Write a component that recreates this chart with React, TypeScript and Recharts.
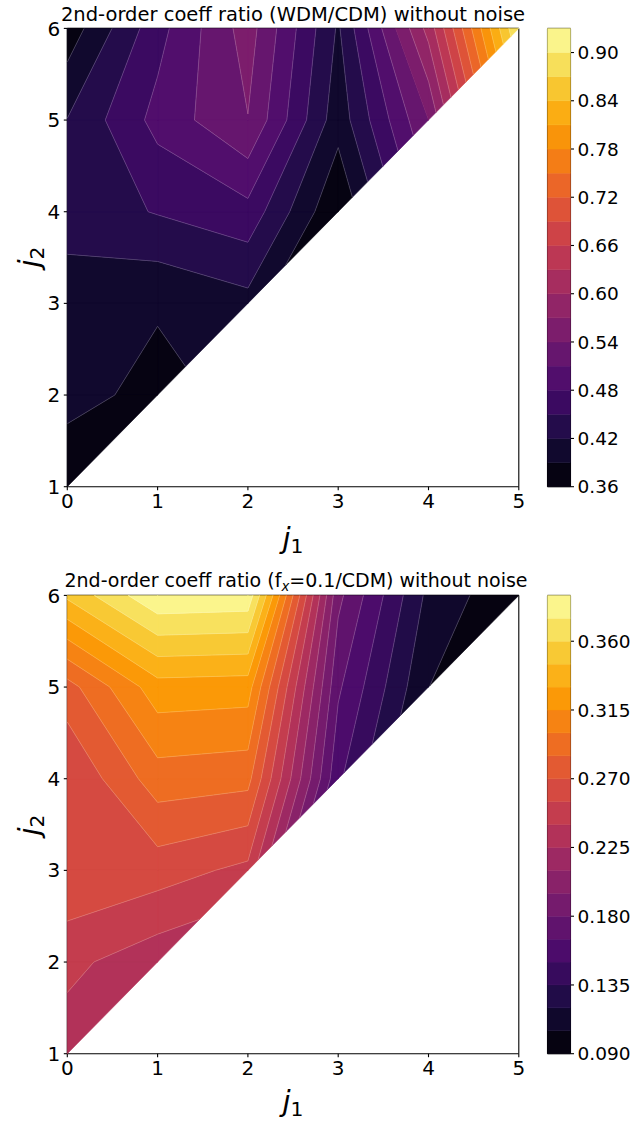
import React from "react";
import { ScatterChart, Scatter, XAxis, YAxis, ReferenceLine } from "recharts";

// grid of scale indices
const J1 = [0, 1, 2, 3, 4, 5];
const J2 = [1, 2, 3, 4, 5, 6];

// one row per j2 (1..6), one value per j1 (0..j2-1)
const WDM_ROWS = [
  [0.368],
  [0.4, 0.381],
  [0.405, 0.393, 0.41],
  [0.433, 0.452, 0.47, 0.362],
  [0.421, 0.49, 0.539, 0.402, 0.54],
  [0.372, 0.469, 0.554, 0.416, 0.611, 0.902],
];
const FX_ROWS = [
  [0.232],
  [0.244, 0.2304],
  [0.2686, 0.262, 0.251],
  [0.2554, 0.293, 0.29, 0.153],
  [0.279, 0.3236, 0.322, 0.1675, 0.1052],
  [0.348, 0.388, 0.386, 0.184, 0.116, 0.092],
];

const WDM_LEVELS = [0.36, 0.39, 0.42, 0.45, 0.48, 0.51, 0.54, 0.57, 0.6, 0.63, 0.66, 0.69, 0.72, 0.75, 0.78, 0.81, 0.84, 0.87, 0.9, 0.93];
const FX_LEVELS = [0.09, 0.105, 0.12, 0.135, 0.15, 0.165, 0.18, 0.195, 0.21, 0.225, 0.24, 0.255, 0.27, 0.285, 0.3, 0.315, 0.33, 0.345, 0.36, 0.375, 0.39];
const WDM_TICKS = [0.36, 0.42, 0.48, 0.54, 0.6, 0.66, 0.72, 0.78, 0.84, 0.9];
const FX_TICKS = [0.09, 0.135, 0.18, 0.225, 0.27, 0.315, 0.36];

// inferno colormap samples: [position, colour]
const INFERNO: [number, string][] = [
  [0, "#000004"], [0.1, "#160b39"], [0.111, "#1b0c42"], [0.2, "#420a68"], [0.222, "#4b0c6b"],
  [0.3, "#6a176e"], [0.333, "#781c6d"], [0.4, "#932667"], [0.444, "#a52c60"], [0.5, "#bc3754"],
  [0.556, "#cf4446"], [0.6, "#dd513a"], [0.667, "#ed6925"], [0.7, "#f37819"], [0.778, "#fb9a06"],
  [0.8, "#fca50a"], [0.889, "#f7d03c"], [0.9, "#f6d746"], [1, "#fcffa4"],
];
const FONT = "DejaVu Sans, sans-serif";

function inferno(t: number) {
  const s = Math.max(0, Math.min(1, t));
  let i = 0;
  while (i < INFERNO.length - 2 && INFERNO[i + 1][0] < s) i++;
  const [p0, a] = INFERNO[i];
  const [p1, b] = INFERNO[i + 1];
  const f = (s - p0) / (p1 - p0);
  const ch = (h: string, k: number) => parseInt(h.slice(1 + 2 * k, 3 + 2 * k), 16);
  const c = [0, 1, 2].map((k) => Math.round(ch(a, k) + f * (ch(b, k) - ch(a, k))));
  return `rgb(${c[0]},${c[1]},${c[2]})`;
}

type Pt = { x: number; y: number; v: number };

function buildCells(rows: number[][]) {
  const cells: Pt[][] = [];
  const val = (c: number, r: number) => (rows[r] && rows[r][c] != null ? rows[r][c] : null);
  for (let r = 0; r < J2.length - 1; r++) {
    for (let c = 0; c < J1.length - 1; c++) {
      const corners = [[c, r], [c + 1, r], [c + 1, r + 1], [c, r + 1]];
      const pts = corners
        .filter(([cc, rr]) => val(cc, rr) != null)
        .map(([cc, rr]) => ({ x: J1[cc], y: J2[rr], v: val(cc, rr) as number }));
      if (pts.length >= 3) cells.push(pts);
    }
  }
  return cells;
}

function bandPolygon(cell: Pt[], lo: number, hi: number) {
  const out: { x: number; y: number }[] = [];
  const n = cell.length;
  for (let i = 0; i < n; i++) {
    const a = cell[i], b = cell[(i + 1) % n];
    if (a.v >= lo && a.v <= hi) out.push({ x: a.x, y: a.y });
    const cuts: { t: number; x: number; y: number }[] = [];
    [lo, hi].forEach((L) => {
      if ((a.v - L) * (b.v - L) < 0) {
        const t = (L - a.v) / (b.v - a.v);
        cuts.push({ t, x: a.x + t * (b.x - a.x), y: a.y + t * (b.y - a.y) });
      }
    });
    cuts.sort((p, q) => p.t - q.t).forEach((p) => out.push({ x: p.x, y: p.y }));
  }
  return out.length >= 3 ? out : null;
}

function levelSegments(cell: Pt[], L: number) {
  const cuts: { x: number; y: number }[] = [];
  const n = cell.length;
  for (let i = 0; i < n; i++) {
    const a = cell[i], b = cell[(i + 1) % n];
    if ((a.v - L) * (b.v - L) < 0) {
      const t = (L - a.v) / (b.v - a.v);
      cuts.push({ x: a.x + t * (b.x - a.x), y: a.y + t * (b.y - a.y) });
    }
  }
  const segs: { x: number; y: number }[][] = [];
  for (let i = 0; i + 1 < cuts.length; i += 2) segs.push([cuts[i], cuts[i + 1]]);
  return segs;
}

const noDot = () => <g />;

// Scatter line renderer: draws the scaled points as several sub-paths
function pathRenderer(sizes: number[], fill: string, stroke: string, strokeWidth: number, closed: boolean) {
  return (props: any) => {
    const pts = props.points || [];
    let d = "";
    let i = 0;
    sizes.forEach((n) => {
      for (let k = 0; k < n; k++) {
        const p = pts[i + k];
        if (p) d += (k ? "L" : "M") + p.x.toFixed(2) + "," + p.y.toFixed(2);
      }
      if (closed) d += "Z";
      i += n;
    });
    return <path d={d} fill={fill} stroke={stroke} strokeWidth={strokeWidth} strokeLinejoin="round" />;
  };
}

const tickStyle = { fontSize: 20, fill: "#000", fontFamily: FONT };

function ContourPanel({ rows, levels }: { rows: number[][]; levels: number[] }) {
  const cells = buildCells(rows);
  const nb = levels.length - 1;
  const bands = levels.slice(0, -1).map((lo, k) => {
    const polys = cells.map((c) => bandPolygon(c, lo, levels[k + 1])).filter((p) => p) as { x: number; y: number }[][];
    return { k, polys, color: inferno((k + 0.5) / nb) };
  }).filter((b) => b.polys.length > 0);
  const lines = levels.slice(1, -1).map((L) => cells.flatMap((c) => levelSegments(c, L))).filter((s) => s.length > 0);

  return (
    <ScatterChart width={540} height={560} margin={{ top: 28.4, right: 21.2, bottom: 23.3, left: 27.3 }}>
      <XAxis type="number" dataKey="x" domain={[0, 5]} ticks={J1} interval={0} height={50}
        tick={tickStyle} tickSize={3.5} tickMargin={3.5}
        axisLine={{ stroke: "#000", strokeWidth: 1.1 }} tickLine={{ stroke: "#000", strokeWidth: 1.1 }} />
      <YAxis type="number" dataKey="y" domain={[1, 6]} ticks={J2} interval={0} width={40}
        tick={tickStyle} tickSize={3.5} tickMargin={3.5}
        axisLine={{ stroke: "#000", strokeWidth: 1.1 }} tickLine={{ stroke: "#000", strokeWidth: 1.1 }} />
      {bands.map((b) => (
        <Scatter key={`band-${b.k}`} data={b.polys.flat()} shape={noDot} isAnimationActive={false}
          line={pathRenderer(b.polys.map((p) => p.length), b.color, b.color, 0.6, true)} />
      ))}
      {lines.map((segs, i) => (
        <Scatter key={`lvl-${i}`} data={segs.flat()} shape={noDot} isAnimationActive={false}
          line={pathRenderer(segs.map(() => 2), "none", "rgba(255,255,255,0.3)", 0.6, false)} />
      ))}
      <ReferenceLine y={6} stroke="#000" strokeWidth={1.1} />
      <ReferenceLine x={5} stroke="#000" strokeWidth={1.1} />
    </ScatterChart>
  );
}

function Colorbar({ levels, ticks, digits }: { levels: number[]; ticks: number[]; digits: number }) {
  const lo = levels[0], hi = levels[levels.length - 1];
  const nb = levels.length - 1;
  return (
    <ScatterChart width={110} height={560} margin={{ top: 28.4, right: 4.5, bottom: 73.3, left: 27.5 }}>
      <XAxis type="number" dataKey="x" domain={[0, 1]} hide />
      <YAxis type="number" dataKey="y" orientation="right" domain={[lo, hi]} ticks={ticks} interval={0} width={55}
        tickFormatter={(v: number) => v.toFixed(digits)} tick={{ ...tickStyle, fontSize: 18.5 }}
        tickSize={3.5} tickMargin={3.5} axisLine={false} tickLine={{ stroke: "#000", strokeWidth: 1.1 }} />
      {levels.slice(0, -1).map((b0, k) => {
        const b1 = levels[k + 1];
        const c = inferno((k + 0.5) / nb);
        return (
          <Scatter key={`cb-${k}`} data={[{ x: 0, y: b0 }, { x: 1, y: b0 }, { x: 1, y: b1 }, { x: 0, y: b1 }]}
            shape={noDot} isAnimationActive={false} line={pathRenderer([4], c, c, 0.5, true)} />
        );
      })}
      <ReferenceLine x={0} stroke="#000" strokeWidth={1.1} />
      <ReferenceLine x={1} stroke="#000" strokeWidth={1.1} />
      <ReferenceLine y={lo} stroke="#000" strokeWidth={1.1} />
      <ReferenceLine y={hi} stroke="#000" strokeWidth={1.1} />
    </ScatterChart>
  );
}

export default function App() {
  const off = 567.1;
  return (
    <div style={{ position: "absolute", left: 0, top: 0, width: 630, height: 1124, background: "#fff", overflow: "hidden" }}>
      <div style={{ position: "absolute", left: 0, top: 0 }}>
        <ContourPanel rows={WDM_ROWS} levels={WDM_LEVELS} />
      </div>
      <div style={{ position: "absolute", left: 520, top: 0 }}>
        <Colorbar levels={WDM_LEVELS} ticks={WDM_TICKS} digits={2} />
      </div>
      <div style={{ position: "absolute", left: 0, top: off }}>
        <ContourPanel rows={FX_ROWS} levels={FX_LEVELS} />
      </div>
      <div style={{ position: "absolute", left: 520, top: off }}>
        <Colorbar levels={FX_LEVELS} ticks={FX_TICKS} digits={3} />
      </div>
      <svg width={630} height={1124} style={{ position: "absolute", left: 0, top: 0, pointerEvents: "none" }}
        fontFamily={FONT} fill="#000">
        <text x={293} y={21} fontSize={19.5} textAnchor="middle">2nd-order coeff ratio (WDM/CDM) without noise</text>
        <text x={296} y={587} fontSize={19} textAnchor="middle">
          2nd-order coeff ratio (f<tspan fontSize={13.3} fontStyle="italic" dy={4}>x</tspan>
          <tspan dy={-4}>=0.1/CDM) without noise</tspan>
        </text>
        <text x={293} y={548} fontSize={29} textAnchor="middle">
          <tspan fontStyle="italic">j</tspan><tspan fontSize={20.3} dy={5}>1</tspan>
        </text>
        <text x={293} y={1111} fontSize={29} textAnchor="middle">
          <tspan fontStyle="italic">j</tspan><tspan fontSize={20.3} dy={5}>1</tspan>
        </text>
        <text transform="translate(39,257) rotate(-90)" fontSize={29} textAnchor="middle">
          <tspan fontStyle="italic">j</tspan><tspan fontSize={20.3} dy={5}>2</tspan>
        </text>
        <text transform="translate(39,825) rotate(-90)" fontSize={29} textAnchor="middle">
          <tspan fontStyle="italic">j</tspan><tspan fontSize={20.3} dy={5}>2</tspan>
        </text>
      </svg>
    </div>
  );
}
